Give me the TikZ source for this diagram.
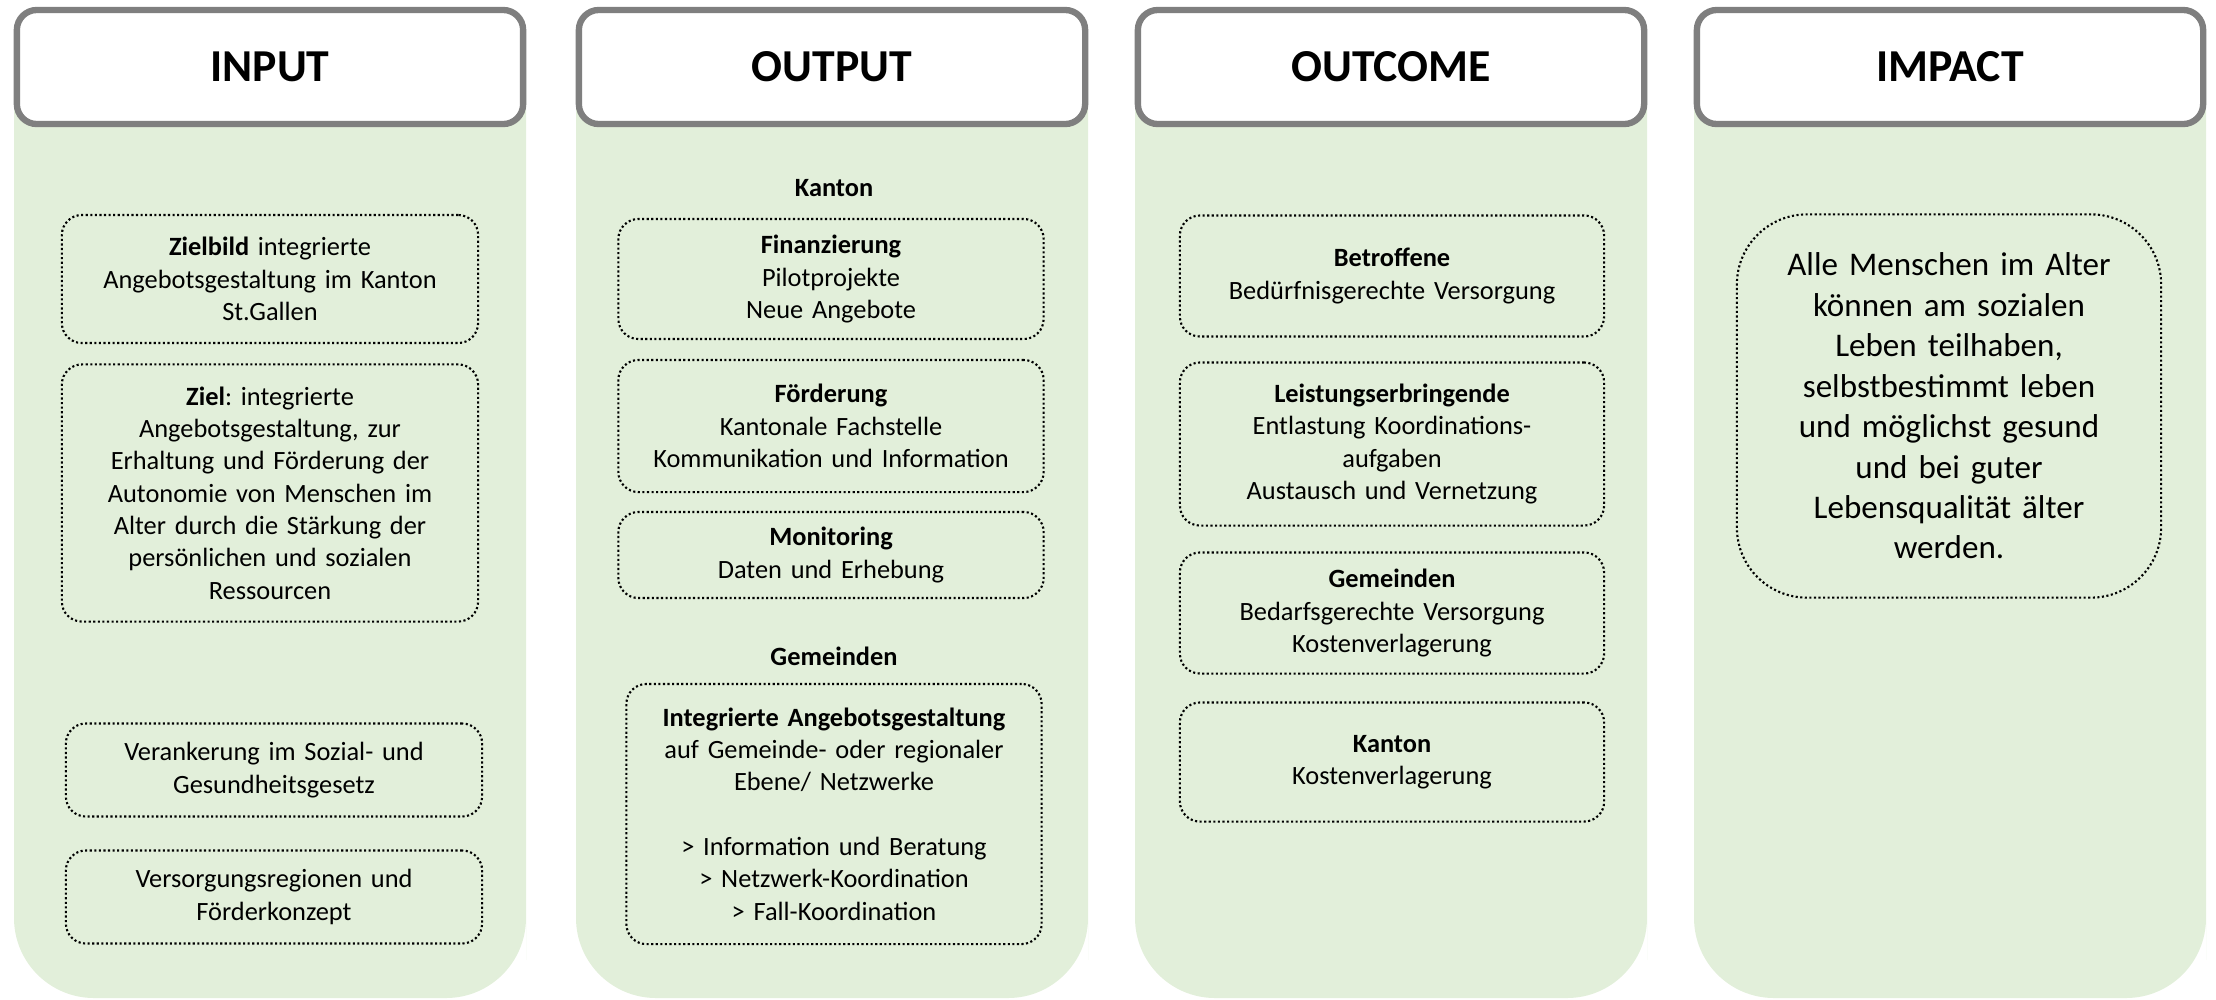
\documentclass[tikz,border=0pt]{standalone}
\usepackage{fontspec}
\setmainfont{Carlito}
\frenchspacing
\definecolor{colgreen}{HTML}{E2EFDA}
\definecolor{headgray}{HTML}{7F7F7F}
\begin{document}
\begin{tikzpicture}
			[
				x={(0.01cm, 0cm)},
				y={(0cm, -0.01cm)},
				head/.style={draw=headgray, line width=1.8pt, fill=white, rounded corners=0.2cm,
					minimum width=5.06cm, minimum height=1.14cm, font=\fontsize{13}{15}\selectfont\bfseries},
				dotbox/.style={draw=black, dash pattern=on 0.6pt off 0.7pt, line width=0.6pt, rounded corners=0.2cm, align=center,
					inner xsep=0pt, text width=#1, font=\fontsize{7.5}{9.2}\selectfont},
				dotbox/.default=4.24cm,
				sublabel/.style={font=\fontsize{7.5}{9.2}\selectfont\bfseries}
			]
			\useasboundingbox (0,0) rectangle (2216,999);
			% Columns
			\foreach \cx/\title/\tag in {270/INPUT/input, 832/OUTPUT/output, 1391/OUTCOME/outcome, 1950/IMPACT/impact} {
					\fill[colgreen]
					(\cx-256,70) -- (\cx-256,880) {[rounded corners=0.8cm] -- (\cx-256,998) -- (\cx+256,998) -- (\cx+256,880)} -- (\cx+256,70) -- cycle;
					\node[head] (\tag) at (\cx,67) {\title};
				}
			% Input
			\node[dotbox=4.16cm, minimum height=1.28cm] (zielbild) at (270,279)
				{\textbf{Zielbild} integrierte\\ Angebotsgestaltung im Kanton\\ St.Gallen};
			\node[dotbox=4.16cm, minimum height=2.57cm] (ziel) at (270,493)
				{\textbf{Ziel}: integrierte\\ Angebotsgestaltung, zur\\ Erhaltung und Förderung der\\ Autonomie von Menschen im\\ Alter durch die Stärkung der\\ persönlichen und sozialen\\ Ressourcen};
			\node[dotbox=4.16cm, minimum height=0.93cm] (verankerung) at (274,770)
				{Verankerung im Sozial- und\\ Gesundheitsgesetz};
			\node[dotbox=4.16cm, minimum height=0.93cm] (regionen) at (274,897)
				{Versorgungsregionen und\\ Förderkonzept};
			% Output
			\node[sublabel] (kanton) at (834,188) {Kanton};
			\node[dotbox=4.25cm, minimum height=1.2cm] (finanzierung) at (831,279)
				{\textbf{Finanzierung}\\ Pilotprojekte\\ Neue Angebote};
			\node[dotbox=4.25cm, minimum height=1.32cm] (foerderung) at (831,426)
				{\textbf{Förderung}\\ Kantonale Fachstelle\\ Kommunikation und Information};
			\node[dotbox=4.25cm, minimum height=0.86cm] (monitoring) at (831,555)
				{\textbf{Monitoring}\\ Daten und Erhebung};
			\node[sublabel] (gemeinden) at (834,656) {Gemeinden};
			\node[dotbox=4.15cm, minimum height=2.6cm] (integriert) at (834,814)
				{\textbf{Integrierte Angebotsgestaltung}\\ auf Gemeinde- oder regionaler\\ Ebene/ Netzwerke\\[9.2pt]
				> Information und Beratung\\ > Netzwerk-Koordination\\ > Fall-Koordination};
			% Outcome
			\node[dotbox, minimum height=1.21cm] (betroffene) at (1392,276)
				{\textbf{Betroffene}\\ Bedürfnisgerechte Versorgung};
			\node[dotbox, minimum height=1.63cm] (leistung) at (1392,444)
				{\textbf{Leistungserbringende}\\ Entlastung Koordinations-\\ aufgaben\\ Austausch und Vernetzung};
			\node[dotbox, minimum height=1.21cm] (gemeindenout) at (1392,613)
				{\textbf{Gemeinden}\\ Bedarfsgerechte Versorgung\\ Kostenverlagerung};
			\node[dotbox, minimum height=1.19cm] (kantonout) at (1392,762)
				{\textbf{Kanton}\\ Kostenverlagerung};
			% Impact
			\node[dotbox, rounded corners=0.7cm, minimum height=3.83cm, font=\fontsize{9.4}{11.5}\selectfont] (lebensqualitaet) at (1949,406)
				{Alle Menschen im Alter\\ können am sozialen\\ Leben teilhaben,\\ selbstbestimmt leben\\ und möglichst gesund\\ und bei guter\\ Lebensqualität älter\\ werden.};
		\end{tikzpicture}
\end{document}
